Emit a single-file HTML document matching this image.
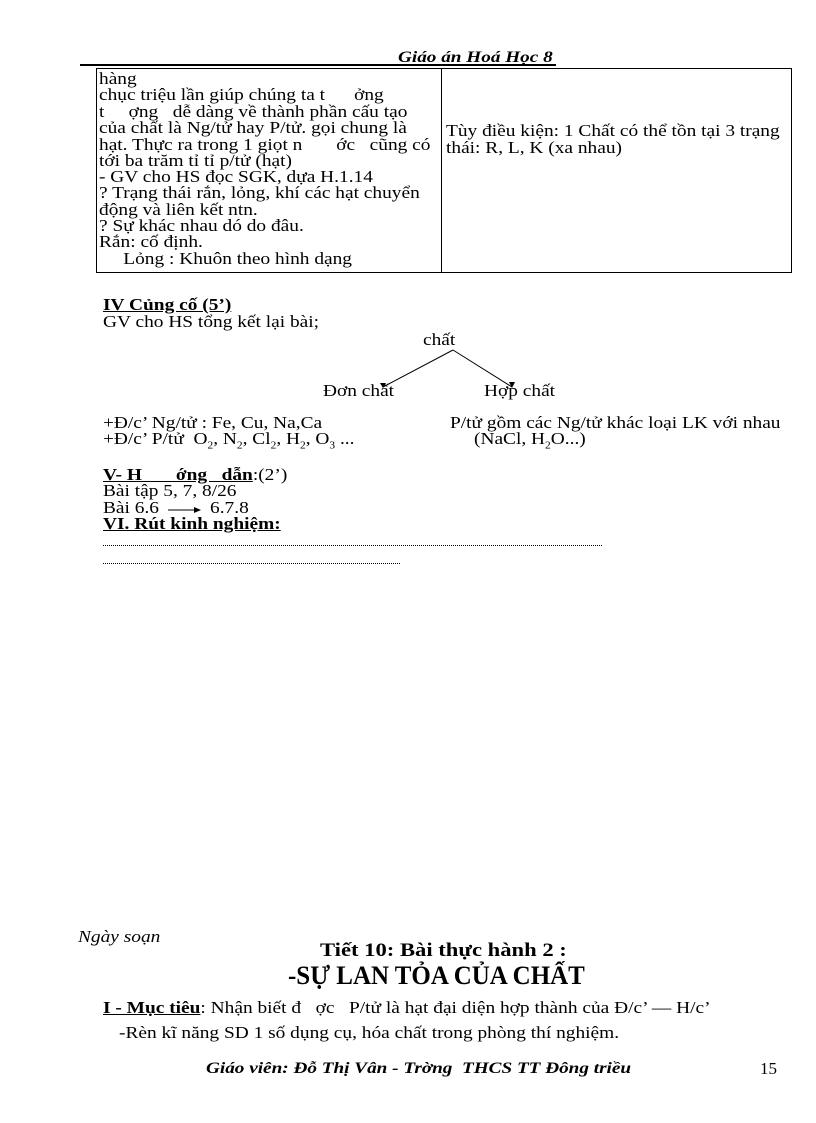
<!DOCTYPE html>
<html><head><meta charset="utf-8">
<style>
body{margin:0;width:816px;height:1123px;background:#fff;position:relative;overflow:hidden;font-family:"Liberation Serif",serif;color:#000}
.t{position:absolute;white-space:pre;font-size:17px;line-height:16px;transform:scaleX(1.14);transform-origin:0 0}
.b{font-weight:bold}
.u{text-decoration:underline}
.i{font-style:italic}
</style></head><body>
<div style="position:absolute;left:80px;top:64px;width:476px;height:2px;background:#000"></div>
<div class="t b i" style="left:398px;top:50px;font-size:16px;transform:scaleX(1.2)">Giáo án Hoá Học 8</div>
<div style="position:absolute;left:96px;top:68px;width:694px;height:203px;border:1px solid #000"></div>
<div style="position:absolute;left:441px;top:68px;width:1px;height:204px;background:#000"></div>
<div style="position:absolute;left:97px;top:69px;width:343px;height:202px;overflow:hidden">
<div class="t" style="left:2px;top:2px">hàng</div>
<div class="t" style="left:2px;top:18px">chục triệu lần giúp chúng ta t      ởng</div>
<div class="t" style="left:2px;top:35px">t     ợng   dễ dàng về thành phần cấu tạo</div>
<div class="t" style="left:2px;top:51px">của chất là Ng/tử hay P/tử. gọi chung là</div>
<div class="t" style="left:2px;top:68px">hạt. Thực ra trong 1 giọt n       ớc   cũng có</div>
<div class="t" style="left:2px;top:84px">tới ba trăm tỉ tỉ p/tử (hạt)</div>
<div class="t" style="left:2px;top:100px">- GV cho HS đọc SGK, dựa H.1.14</div>
<div class="t" style="left:2px;top:116px">? Trạng thái rắn, lỏng, khí các hạt chuyển</div>
<div class="t" style="left:2px;top:133px">động và liên kết ntn.</div>
<div class="t" style="left:2px;top:149px">? Sự khác nhau dó do đâu.</div>
<div class="t" style="left:2px;top:165px">Rắn: cố định.</div>
<div class="t" style="left:2px;top:182px">     Lỏng : Khuôn theo hình dạng</div>
</div>
<div class="t" style="left:446px;top:123px">Tùy điều kiện: 1 Chất có thể tồn tại 3 trạng</div>
<div class="t" style="left:446px;top:140px">thái: R, L, K (xa nhau)</div>

<div class="t b u" style="left:103px;top:297px">IV Củng cố (5’)</div>
<div class="t" style="left:103px;top:314px">GV cho HS tổng kết lại bài;</div>
<div class="t" style="left:423px;top:332px">chất</div>
<svg style="position:absolute;left:0;top:0" width="816" height="1123">
<line x1="453" y1="350" x2="383" y2="387" stroke="#000" stroke-width="1"/>
<line x1="453" y1="350" x2="512" y2="387" stroke="#000" stroke-width="1"/>
<polygon points="383,388 380,383 386,383" fill="#000"/>
<polygon points="512,388 509,382 515,382" fill="#000"/>
<line x1="168" y1="510" x2="196" y2="510" stroke="#000"/>
<polygon points="201,510 194,507 194,513" fill="#000"/>
</svg>
<div class="t" style="left:323px;top:383px">Đơn chất</div>
<div class="t" style="left:484px;top:383px">Hợp chất</div>
<div class="t" style="left:103px;top:415px">+Đ/c’ Ng/tử : Fe, Cu, Na,Ca</div>
<div class="t" style="left:450px;top:415px">P/tử gồm các Ng/tử khác loại LK với nhau</div>
<div class="t" style="left:103px;top:431px">+Đ/c’ P/tử  O<sub style="font-size:10px">2</sub>, N<sub style="font-size:10px">2</sub>, Cl<sub style="font-size:10px">2</sub>, H<sub style="font-size:10px">2</sub>, O<sub style="font-size:10px">3</sub> ...</div>
<div class="t" style="left:474px;top:431px">(NaCl, H<sub style="font-size:10px">2</sub>O...)</div>
<div class="t" style="left:103px;top:467px"><span class="b u">V- H       ớng   dẫn</span>:(2’)</div>
<div class="t" style="left:103px;top:483px">Bài tập 5, 7, 8/26</div>
<div class="t" style="left:103px;top:500px">Bài 6.6</div>
<div class="t" style="left:210px;top:500px">6.7.8</div>
<div class="t b u" style="left:103px;top:516px">VI. Rút kinh nghiệm:</div>
<div style="position:absolute;left:103px;top:545px;width:499px;border-top:1.5px dotted #000"></div>
<div style="position:absolute;left:103px;top:563px;width:297px;border-top:1.5px dotted #000"></div>

<div class="t i" style="left:78px;top:929px">Ngày soạn</div>
<div class="t b" style="left:320px;top:941px;font-size:19px;line-height:19px;transform:scaleX(1.19)">Tiết 10: Bài thực hành 2 :</div>
<div class="t b" style="left:288px;top:963px;font-size:26px;line-height:26px;transform:scaleX(0.96)">-SỰ LAN TỎA CỦA CHẤT</div>
<div class="t" style="left:103px;top:1000px"><span class="b u">I - Mục tiêu</span>: Nhận biết đ   ợc   P/tử là hạt đại diện hợp thành của Đ/c’ — H/c’</div>
<div class="t" style="left:119px;top:1025px">-Rèn kĩ năng SD 1 số dụng cụ, hóa chất trong phòng thí nghiệm.</div>
<div class="t b i" style="left:206px;top:1061px;font-size:16px;transform:scaleX(1.2)">Giáo viên: Đỗ Thị Vân - Tr­ờng  THCS TT Đông triều</div>
<div class="t" style="left:760px;top:1061px;font-size:17px;transform:none">15</div>
</body></html>
